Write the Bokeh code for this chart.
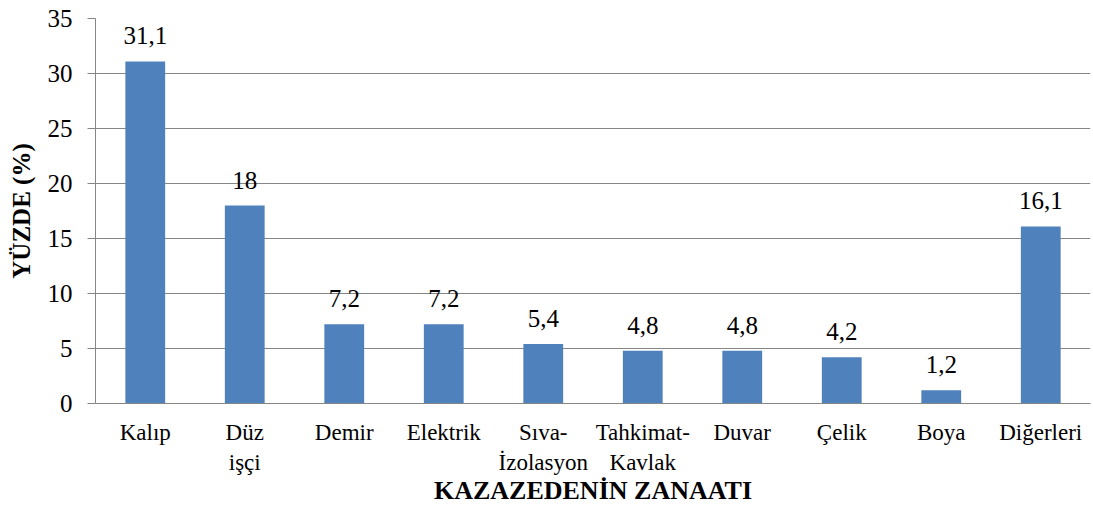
from bokeh.plotting import figure
from bokeh.models import FixedTicker, ColumnDataSource, LabelSet
from bokeh.embed import file_html
from bokeh.resources import INLINE

categories = ["Kalıp", "Düz\nişçi", "Demir", "Elektrik", "Sıva-\nİzolasyon",
              "Tahkimat-\nKavlak", "Duvar", "Çelik", "Boya", "Diğerleri"]
values = [31.1, 18, 7.2, 7.2, 5.4, 4.8, 4.8, 4.2, 1.2, 16.1]
value_labels = ["31,1", "18", "7,2", "7,2", "5,4", "4,8", "4,8", "4,2", "1,2", "16,1"]
y_ticks = [0, 5, 10, 15, 20, 25, 30, 35]

FONT = "Liberation Serif"
xs = list(range(1, len(categories) + 1))

p = figure(width=1093, height=507, output_backend="svg", toolbar_location=None,
           x_range=(0.5, len(categories) + 0.5), y_range=(0, 35),
           min_border_left=95, min_border_right=3, min_border_top=18, min_border_bottom=103)
p.outline_line_color = None

src = ColumnDataSource(dict(x=xs, top=values, lab=value_labels))
p.vbar(x="x", top="top", width=0.4, source=src, fill_color="#4F81BD", line_color=None)

labels = LabelSet(x="x", y="top", text="lab", source=src, text_align="center",
                  text_baseline="bottom", y_offset=17, text_font=FONT,
                  text_font_size="25px", text_color="#000000")
p.add_layout(labels)

# x axis
p.xaxis.ticker = FixedTicker(ticks=xs)
p.xaxis.major_label_overrides = {x: c for x, c in zip(xs, categories)}
p.xaxis.major_tick_line_color = None
p.xaxis.minor_tick_line_color = None
p.xaxis.axis_line_color = "#868686"
p.xaxis.major_label_text_font = FONT
p.xaxis.major_label_text_font_size = "23px"
p.xaxis.major_label_text_color = "#000000"
p.xaxis.major_label_standoff = 10
p.xaxis.axis_label = "KAZAZEDENİN ZANAATI"
p.xaxis.axis_label_text_font = FONT
p.xaxis.axis_label_text_font_style = "bold"
p.xaxis.axis_label_text_font_size = "26px"
p.xaxis.axis_label_text_color = "#000000"
p.xaxis.axis_label_standoff = -2

# y axis
p.yaxis.ticker = FixedTicker(ticks=y_ticks)
p.yaxis.major_tick_in = 0
p.yaxis.major_tick_out = 8
p.yaxis.major_tick_line_color = "#868686"
p.yaxis.minor_tick_line_color = None
p.yaxis.axis_line_color = "#868686"
p.yaxis.major_label_text_font = FONT
p.yaxis.major_label_text_font_size = "25px"
p.yaxis.major_label_text_color = "#000000"
p.yaxis.major_label_standoff = 15
p.yaxis.axis_label = "YÜZDE (%)"
p.yaxis.axis_label_text_font = FONT
p.yaxis.axis_label_text_font_style = "bold"
p.yaxis.axis_label_text_font_size = "25px"
p.yaxis.axis_label_text_color = "#000000"
p.yaxis.axis_label_standoff = 10

p.xgrid.grid_line_color = None
p.ygrid.grid_line_color = "#868686"
p.ygrid.grid_line_width = 1

open("out.html", "w").write(file_html(p, INLINE))
